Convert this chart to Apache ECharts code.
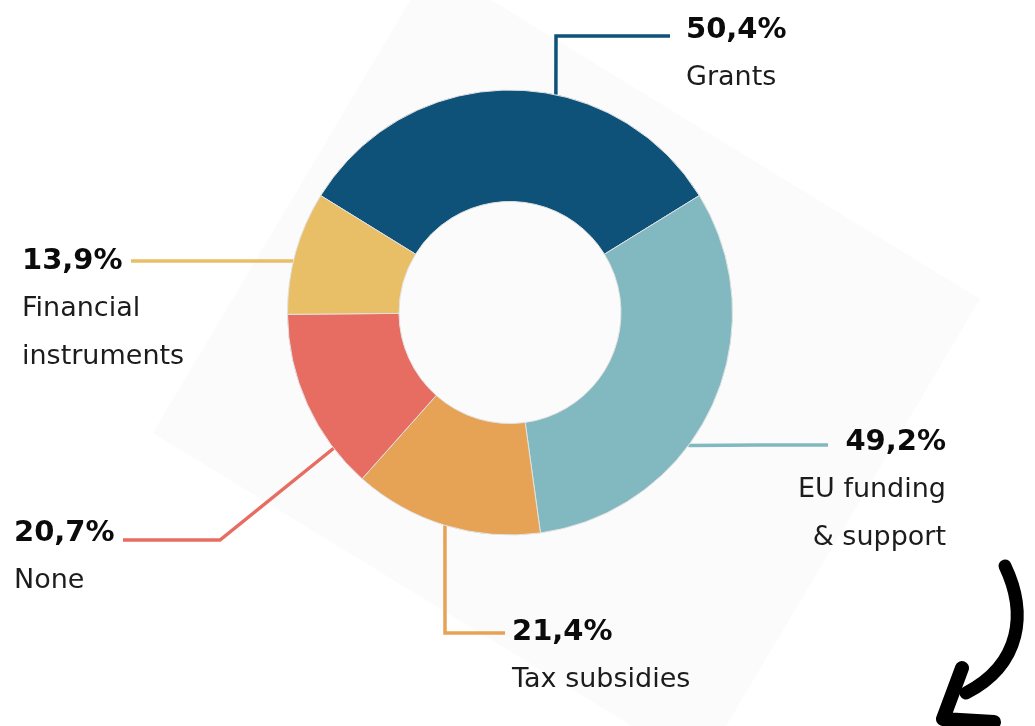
<!DOCTYPE html>
<html>
<head>
<meta charset="utf-8">
<script src="https://cdn.jsdelivr.net/npm/echarts@6/dist/echarts.min.js"></script>
<style>
  html, body { margin: 0; padding: 0; background: #ffffff; }
  #chart { width: 1035px; height: 726px; }
</style>
</head>
<body>
<div id="chart"></div>
<script>
// Funding sources (share of respondents, %)
const categories = ['Grants', 'EU funding\n& support', 'Tax subsidies', 'None', 'Financial\ninstruments'];
const shares = [50.4, 49.2, 21.4, 20.7, 13.9];
const colors = ['#0e527a', '#82b8c0', '#e6a255', '#e76d62', '#e8bf66'];

// Donut geometry
const CX = 510, CY = 312.5, R_IN = 111, R_OUT = 222.5;
const total = shares.reduce((a, b) => a + b, 0);
// first slice (Grants) is centred on 12 o'clock
const START_ANGLE = 90 + (shares[0] / total) * 180;

// Callout layout: rim anchor angle (deg, clockwise from 12 o'clock), elbow, line end, text block
const callouts = [
  { angle: 11.9,  elbow: [556, 36],  end: [670, 36],  x: 686, y: 6,   align: 'left'  },
  { angle: 126.7, elbow: [760, 445], end: [828, 445], x: 946, y: 418, align: 'right' },
  { angle: 197.0, elbow: [445, 633], end: [505, 633], x: 512, y: 608, align: 'left'  },
  { angle: 232.4, elbow: [220, 540], end: [123, 540], x: 14,  y: 509, align: 'left'  },
  { angle: 283.4, elbow: [230, 261], end: [131, 261], x: 22,  y: 237, align: 'left'  }
];

function rimPoint(deg) {
  const a = deg * Math.PI / 180;
  return [CX + R_OUT * Math.sin(a), CY - R_OUT * Math.cos(a)];
}

function fmtPct(v) {
  return v.toFixed(1).replace('.', ',') + '%';
}

const FONT = '"DejaVu Sans", "Noto Sans", sans-serif';

const data = categories.map((name, i) => ({
  name: name,
  value: shares[i],
  itemStyle: { color: colors[i] },
  label: { align: callouts[i].align }
}));

const chart = echarts.init(document.getElementById('chart'), null, { renderer: 'canvas' });

chart.setOption({
  backgroundColor: '#ffffff',
  animation: false,
  graphic: [
    {
      // pale tilted panel behind the donut
      type: 'polygon',
      z: 0,
      silent: true,
      shape: { points: [[153, 433], [432, -36], [980, 299], [701, 768]] },
      style: { fill: '#fbfbfb', stroke: null }
    },
    {
      // hand-drawn arrow, curve
      type: 'bezierCurve',
      z: 10,
      silent: true,
      shape: { x1: 1005, y1: 566, cpx1: 1027, cpy1: 612, cpx2: 1022, cpy2: 664, x2: 966, y2: 693 },
      style: { stroke: '#000000', lineWidth: 13, lineCap: 'round', fill: null }
    },
    {
      // hand-drawn arrow, head
      type: 'polyline',
      z: 10,
      silent: true,
      shape: { points: [[962, 668], [943, 719], [994, 722]] },
      style: { stroke: '#000000', lineWidth: 14, lineCap: 'round', lineJoin: 'round', fill: null }
    }
  ],
  series: [
    {
      type: 'pie',
      z: 2,
      center: [CX, CY],
      radius: [R_IN, R_OUT],
      startAngle: START_ANGLE,
      clockwise: true,
      avoidLabelOverlap: false,
      itemStyle: { borderColor: '#e2e2e2', borderWidth: 1 },
      emphasis: { disabled: true },
      label: {
        show: true,
        position: 'outside',
        formatter: function (p) {
          const lines = ['{v|' + fmtPct(p.value) + '}'];
          p.name.split('\n').forEach(l => lines.push('{n|' + l + '}'));
          return lines.join('\n');
        },
        rich: {
          v: { fontFamily: FONT, fontWeight: 'bold', fontSize: 29, color: '#0b0b0b', lineHeight: 48 },
          n: { fontFamily: FONT, fontWeight: 'normal', fontSize: 27, color: '#1c1c1c', lineHeight: 48 }
        }
      },
      labelLine: {
        show: true,
        smooth: false,
        length: 20,
        length2: 20,
        lineStyle: { width: 3.5 }
      },
      labelLayout: function (params) {
        const c = callouts[params.dataIndex];
        return {
          x: c.x,
          y: c.y,
          align: c.align,
          verticalAlign: 'top',
          labelLinePoints: [rimPoint(c.angle), c.elbow, c.end]
        };
      },
      data: data
    }
  ]
});
</script>
</body>
</html>
